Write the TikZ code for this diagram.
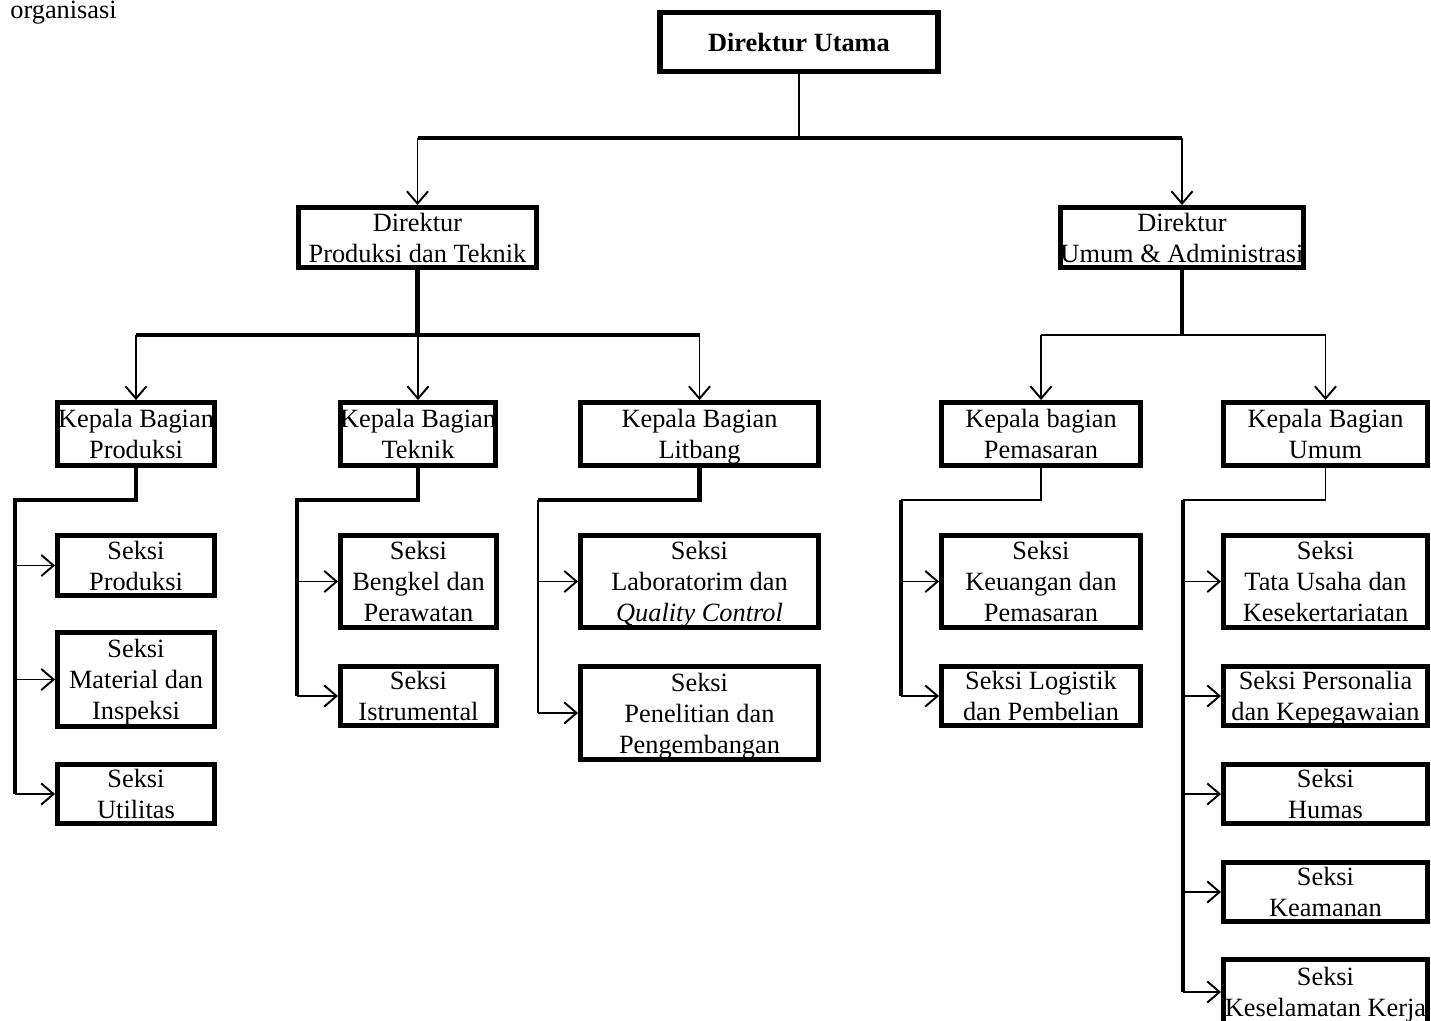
\documentclass[tikz,border=0pt]{standalone}
\usepackage{fontspec}
\setmainfont{Liberation Serif}
\usetikzlibrary{arrows.meta}

\begin{document}
\begin{tikzpicture}[x=0.02cm, y=-0.02cm]
        \clip (0,0) rectangle (1431,1021);
        \node [anchor=base west, inner sep=0] (cap) at (10,18) {\fontsize{15}{17}\selectfont organisasi};

        \begin{scope}[every node/.style={draw, line width=2.8pt, align=center, inner sep=0pt, text depth=0pt, font=\fontsize{15}{17.6}\selectfont}]
                % top
                \node [line width=3.4pt, minimum width=5.56cm, minimum height=1.18cm, font=\fontsize{15}{17.6}\selectfont\bfseries] (DU) at (799,42) {Direktur Utama};
                \node [minimum width=4.76cm, minimum height=1.2cm] (DPT) at (417.5,237.5) {Direktur\\Produksi dan Teknik};
                \node [minimum width=4.78cm, minimum height=1.2cm] (DUA) at (1182,237.5) {Direktur\\Umum \& Administrasi};

                % kepala bagian
                \node [minimum width=3.14cm, minimum height=1.26cm] (KBP) at (136,434) {Kepala Bagian\\Produksi};
                \node [minimum width=3.1cm, minimum height=1.26cm] (KBT) at (418,434) {Kepala Bagian\\Teknik};
                \node [minimum width=4.76cm, minimum height=1.26cm] (KBL) at (699.5,434) {Kepala Bagian\\Litbang};
                \node [minimum width=3.98cm, minimum height=1.26cm] (KBM) at (1041,434) {Kepala bagian\\Pemasaran};
                \node [minimum width=4.08cm, minimum height=1.26cm] (KBU) at (1325.5,434) {Kepala Bagian\\Umum};

                % seksi
                \node [minimum width=3.14cm, minimum height=1.2cm] (SP) at (136,565.5) {Seksi\\Produksi};
                \node [minimum width=3.14cm, minimum height=1.88cm] (SMI) at (136,679.5) {Seksi\\Material dan\\Inspeksi};
                \node [minimum width=3.14cm, minimum height=1.18cm] (SU) at (136,794) {Seksi\\Utilitas};
                \node [minimum width=3.12cm, minimum height=1.84cm] (SBP) at (418.5,581.5) {Seksi\\Bengkel dan\\Perawatan};
                \node [minimum width=3.12cm, minimum height=1.18cm] (SI) at (418.5,696) {Seksi\\Istrumental};
                \node [minimum width=4.76cm, minimum height=1.84cm] (SLQ) at (699.5,581.5) {Seksi\\Laboratorim dan\\\textit{Quality Control}};
                \node [minimum width=4.76cm, minimum height=1.86cm] (SPP) at (699.5,713) {Seksi\\Penelitian dan\\Pengembangan};
                \node [minimum width=3.98cm, minimum height=1.84cm] (SKP) at (1041,581.5) {Seksi\\Keuangan dan\\Pemasaran};
                \node [minimum width=3.98cm, minimum height=1.18cm] (SLP) at (1041,696) {Seksi Logistik\\dan Pembelian};
                \node [minimum width=4.08cm, minimum height=1.84cm] (STU) at (1325.5,581.5) {Seksi\\Tata Usaha dan\\Kesekertariatan};
                \node [minimum width=4.08cm, minimum height=1.18cm] (SPK) at (1325.5,696) {Seksi Personalia\\dan Kepegawaian};
                \node [minimum width=4.08cm, minimum height=1.18cm] (SH) at (1325.5,794) {Seksi\\Humas};
                \node [minimum width=4.08cm, minimum height=1.18cm] (SK) at (1325.5,892) {Seksi\\Keamanan};
                \node [minimum width=4.08cm, minimum height=1.3cm] (SKK) at (1325.5,992) {Seksi\\Keselamatan Kerja};
        \end{scope}

        \begin{scope}[every path/.style={line width=1.1pt}, bold/.style={line width=2.8pt}, arr/.style={-{Straight Barb[length=7pt,width=12pt]}}]
                \coordinate (j0) at (800,138);
                \coordinate (j1) at (418,335);
                \coordinate (j2) at (1183,335);
                \coordinate (bP) at (15,500);
                \coordinate (bT) at (297,500);
                \coordinate (bL) at (538,500);
                \coordinate (bM) at (901,500);
                \coordinate (bU) at (1183,500);

                % direktur
                \draw (DU.south) -- (DU.south |- j0);
                \draw [bold] (DPT |- j0) -- (DUA |- j0);
                \draw [arr] (DPT |- j0) -- (DPT);
                \draw [arr] (DUA |- j0) -- (DUA);

                % kepala bagian
                \draw [bold] (DPT.south) -- (DPT.south |- j1);
                \draw [bold] (KBP |- j1) -- (KBL |- j1);
                \foreach \k in {KBP,KBT,KBL}
                        \draw [arr] (\k |- j1) -- (\k);
                \draw [bold] (DUA.south) -- (DUA.south |- j2);
                \draw (KBM |- j2) -- (KBU |- j2);
                \foreach \k in {KBM,KBU}
                        \draw [arr] (\k |- j2) -- (\k);

                % seksi
                \draw [bold] (KBP.south) |- (bP) -- (bP |- SU);
                \foreach \s in {SP,SMI,SU}
                        \draw [arr] (bP |- \s) -- (\s);
                \draw [bold] (KBT.south) |- (bT) -- (bT |- SI);
                \foreach \s in {SBP,SI}
                        \draw [arr] (bT |- \s) -- (\s);
                \draw [bold] (KBL.south) |- (bL);
                \draw (bL) -- (bL |- SPP);
                \foreach \s in {SLQ,SPP}
                        \draw [arr] (bL |- \s) -- (\s);
                \draw (KBM.south) |- (bM);
                \draw [bold] (bM) -- (bM |- SLP);
                \foreach \s in {SKP,SLP}
                        \draw [arr] (bM |- \s) -- (\s);
                \draw (KBU.south) |- (bU);
                \draw [bold] (bU) -- (bU |- SKK);
                \foreach \s in {STU,SPK,SH,SK,SKK}
                        \draw [arr] (bU |- \s) -- (\s);
        \end{scope}
\end{tikzpicture}
\end{document}
